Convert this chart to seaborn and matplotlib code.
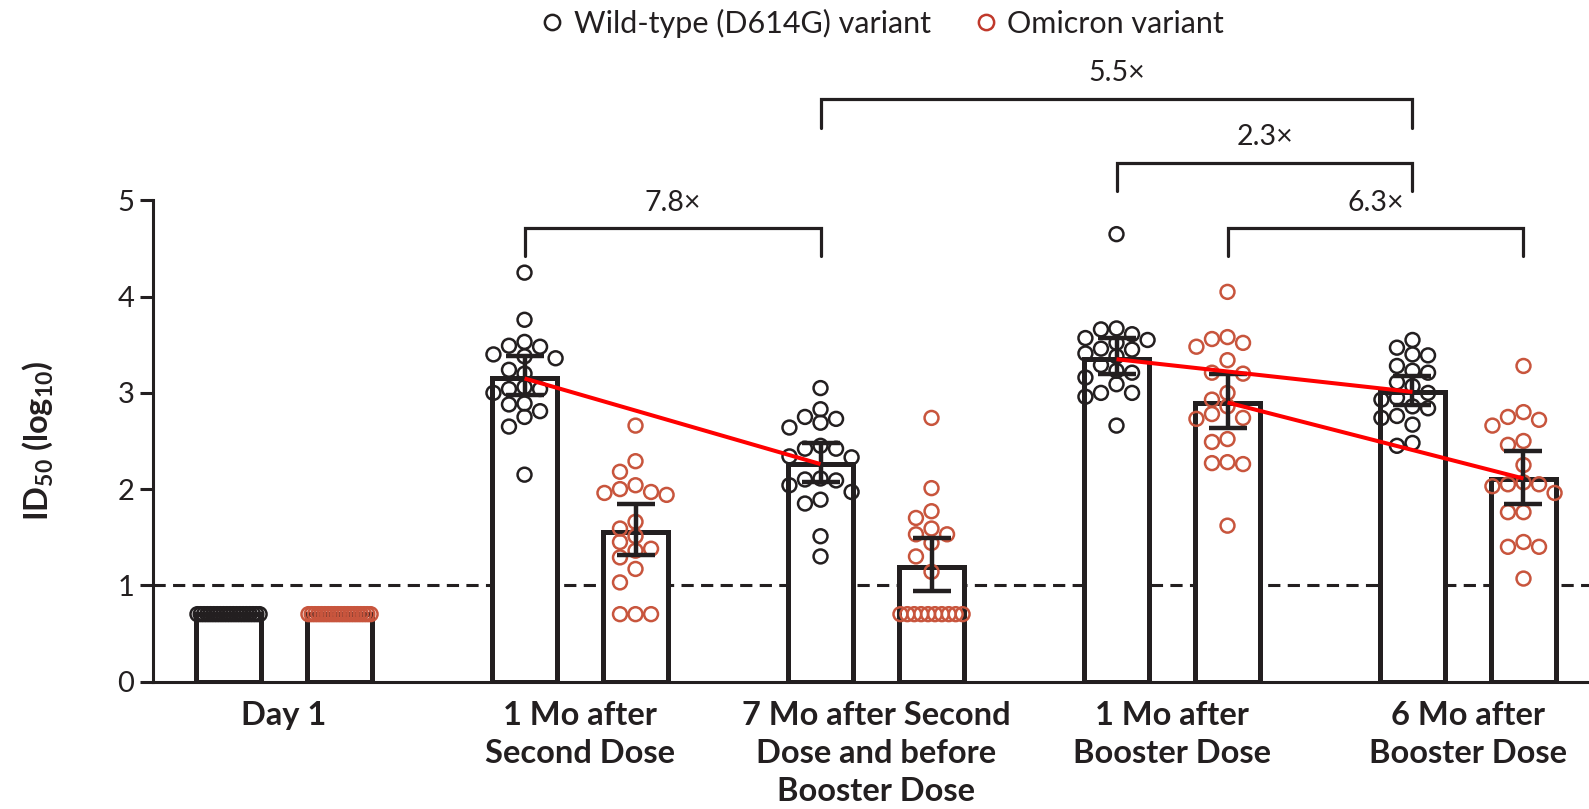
import numpy as np
import pandas as pd
import matplotlib
matplotlib.use("Agg")
import matplotlib.pyplot as plt
from matplotlib.lines import Line2D
import seaborn as sns

# ---------------------------------------------------------------- data
groups = [
    "Day 1",
    "1 Mo after\nSecond Dose",
    "7 Mo after Second\nDose and before\nBooster Dose",
    "1 Mo after\nBooster Dose",
    "6 Mo after\nBooster Dose",
]
variants = ["Wild-type (D614G) variant", "Omicron variant"]

# individual log10 ID50 titers
wt_day1 = [0.70] * 20
om_day1 = [0.70] * 20
wt_m1_dose2 = [4.25, 3.76, 3.53, 3.49, 3.48, 3.40, 3.38, 3.36, 3.24, 3.20,
               3.06, 3.04, 3.04, 3.00, 2.89, 2.88, 2.81, 2.75, 2.65, 2.15]
om_m1_dose2 = [2.66, 2.29, 2.18, 2.04, 2.00, 1.97, 1.96, 1.94, 1.66, 1.59,
               1.51, 1.45, 1.38, 1.36, 1.29, 1.17, 1.03, 0.70, 0.70, 0.70]
wt_m7_dose2 = [3.05, 2.83, 2.75, 2.73, 2.69, 2.64, 2.45, 2.42, 2.42, 2.34,
               2.33, 2.11, 2.10, 2.09, 2.04, 1.97, 1.89, 1.85, 1.51, 1.30]
om_m7_dose2 = [2.74, 2.01, 1.77, 1.70, 1.59, 1.53, 1.53, 1.44, 1.30, 1.14,
               0.70, 0.70, 0.70, 0.70, 0.70, 0.70, 0.70, 0.70, 0.70, 0.70]
wt_m1_boost = [4.65, 3.67, 3.66, 3.61, 3.57, 3.55, 3.52, 3.46, 3.45, 3.41,
               3.38, 3.29, 3.23, 3.21, 3.16, 3.09, 3.00, 3.00, 2.96, 2.66]
om_m1_boost = [4.05, 3.58, 3.56, 3.52, 3.48, 3.34, 3.21, 3.20, 3.00, 2.93,
               2.86, 2.78, 2.74, 2.73, 2.52, 2.49, 2.28, 2.27, 2.26, 1.62]
wt_m6_boost = [3.55, 3.47, 3.40, 3.39, 3.28, 3.23, 3.21, 3.11, 3.07, 3.00,
               2.95, 2.93, 2.86, 2.84, 2.76, 2.74, 2.67, 2.48, 2.45]
om_m6_boost = [3.28, 2.80, 2.75, 2.72, 2.66, 2.50, 2.46, 2.25, 2.07, 2.05,
               2.05, 2.03, 1.96, 1.76, 1.76, 1.45, 1.40, 1.40, 1.07]

wt_points = [wt_day1, wt_m1_dose2, wt_m7_dose2, wt_m1_boost, wt_m6_boost]
om_points = [om_day1, om_m1_dose2, om_m7_dose2, om_m1_boost, om_m6_boost]

# geometric mean titers (log10) with 95% CI
wt_mean = [0.70, 3.15, 2.26, 3.35, 3.01]
wt_lo = [np.nan, 2.98, 2.07, 3.20, 2.87]
wt_hi = [np.nan, 3.38, 2.48, 3.57, 3.18]
om_mean = [0.70, 1.55, 1.19, 2.90, 2.11]
om_lo = [np.nan, 1.32, 0.94, 2.64, 1.85]
om_hi = [np.nan, 1.84, 1.49, 3.20, 2.40]

# limit of detection
lod = 1.0

# decline lines between time points: (group_from, group_to, variant index)
trend_pairs = [(1, 2, 0), (3, 4, 0), (3, 4, 1)]

# fold-change comparisons: (group_a, variant_a, group_b, variant_b, label)
fold_changes = [
    (1, 0, 2, 0, "7.8\u00d7"),
    (2, 0, 4, 0, "5.5\u00d7"),
    (3, 0, 4, 0, "2.3\u00d7"),
    (3, 1, 4, 1, "6.3\u00d7"),
]
# bracket tiers (top, leg end) in axis units, same order as fold_changes
bracket_levels = [(4.71, 4.42), (6.06, 5.75), (5.39, 5.10), (4.71, 4.42)]

# ---------------------------------------------------------------- style
sns.set_style("white")
plt.rcParams["font.family"] = ["Lato", "DejaVu Sans"]
plt.rcParams["mathtext.fontset"] = "custom"
plt.rcParams["mathtext.rm"] = "Lato:bold"
plt.rcParams["mathtext.it"] = "Lato:bold"
plt.rcParams["mathtext.bf"] = "Lato:bold"
plt.rcParams["mathtext.default"] = "rm"

INK = "#231F20"
OMI = "#C8553D"
TREND = "#FF0000"
colors = [INK, OMI]

DODGE_WIDTH = 0.75
OFFSET = DODGE_WIDTH / 4          # bar centre offset from group centre
COL_STEP = 0.0525                 # horizontal spacing of dot columns
MIN_DY = 0.14                     # vertical clearance between dots in a column


def swarm_offsets(vals, step, min_dy, max_half=2):
    """Grid-based beeswarm: dots go into columns around the centre; long rows
    of identical values are squeezed evenly into the bar width."""
    vals = np.asarray(vals, float)
    offs = np.zeros(len(vals))
    uniq, counts = np.unique(vals, return_counts=True)
    crowded = {u for u, c in zip(uniq, counts) if c > 2 * max_half + 1}
    for u in crowded:
        idx = np.where(vals == u)[0]
        offs[idx] = np.linspace(-max_half * step, max_half * step, len(idx))
    cand = [0] + [s * k for k in range(1, max_half + 2) for s in (-1, 1)]
    placed = {}
    for i in np.argsort(-vals, kind="stable"):
        if vals[i] in crowded:
            continue
        best, best_gap = cand[0], -1
        for c in cand:
            ys = placed.get(c, [])
            gap = min([abs(vals[i] - y) for y in ys], default=np.inf)
            if gap >= min_dy:
                best = c
                break
            if gap > best_gap:
                best, best_gap = c, gap
        placed.setdefault(best, []).append(vals[i])
        offs[i] = best * step
    return offs


# ---------------------------------------------------------------- figure
fig = plt.figure(figsize=(15.89, 8.09), dpi=100)
ax = fig.add_axes([0.0963, 0.1576, 0.9037, 0.8424])

bars = pd.DataFrame({
    "group": np.repeat(groups, 2),
    "variant": variants * len(groups),
    "mean": np.ravel(np.column_stack([wt_mean, om_mean])),
})
sns.barplot(data=bars, x="group", y="mean", hue="variant", order=groups,
            hue_order=variants, palette=["white", "white"], saturation=1,
            width=DODGE_WIDTH, gap=0.413, edgecolor=INK, linewidth=3.6,
            errorbar=None, legend=False, ax=ax, zorder=2)

# limit of detection
ax.axhline(lod, color=INK, lw=2.2, ls=(0, (4, 2.4)), zorder=1.5)

# individual dots
for v, (pts, col) in enumerate(zip([wt_points, om_points], colors)):
    sign = -1 if v == 0 else 1
    for g, vals in enumerate(pts):
        xs = g + sign * OFFSET + swarm_offsets(vals, COL_STEP, MIN_DY)
        sns.scatterplot(x=xs, y=vals, ax=ax, s=100, marker="o",
                        facecolor="none", edgecolor=col, linewidth=1.8,
                        legend=False, zorder=3)

# error bars (95% CI)
for v, (m, lo, hi) in enumerate([(wt_mean, wt_lo, wt_hi), (om_mean, om_lo, om_hi)]):
    sign = -1 if v == 0 else 1
    m, lo, hi = map(np.asarray, (m, lo, hi))
    ok = ~np.isnan(lo)
    xs = np.arange(len(groups))[ok] + sign * OFFSET
    ax.errorbar(xs, m[ok], yerr=[m[ok] - lo[ok], hi[ok] - m[ok]], fmt="none",
                ecolor=INK, elinewidth=3.2, capsize=13.5, capthick=3.2,
                zorder=5)

# decline lines between geometric means
means = [wt_mean, om_mean]
for ga, gb, v in trend_pairs:
    sign = -1 if v == 0 else 1
    ax.plot([ga + sign * OFFSET, gb + sign * OFFSET],
            [means[v][ga], means[v][gb]], color=TREND, lw=2.9,
            solid_capstyle="butt", zorder=6)

# fold-change brackets
for (ga, va, gb, vb, label), (top, leg) in zip(fold_changes, bracket_levels):
    xa = ga + (-1 if va == 0 else 1) * OFFSET
    xb = gb + (-1 if vb == 0 else 1) * OFFSET
    ax.plot([xa, xa, xb, xb], [leg, top, top, leg], color=INK, lw=2.3,
            solid_joinstyle="miter", clip_on=False, zorder=6)
    ax.text((xa + xb) / 2, top + 0.13, label, ha="center", va="bottom",
            fontsize=20.5, color=INK)

# axes cosmetics
ax.set_xlim(-0.4426, 4.4088)
ax.set_ylim(0, 7.084)
for side in ("top", "right"):
    ax.spines[side].set_visible(False)
ax.spines["left"].set_bounds(0, 5)
ax.spines["left"].set_linewidth(2.2)
ax.spines["bottom"].set_linewidth(2.2)
ax.spines["left"].set_color(INK)
ax.spines["bottom"].set_color(INK)

ax.set_yticks(range(6))
ax.set_yticklabels([str(i) for i in range(6)], fontsize=21, color=INK)
ax.tick_params(axis="y", length=9.5, width=2.2, color=INK, pad=4, left=True)
ax.set_xticks(range(len(groups)))
ax.set_xticklabels(groups, fontsize=23.5, fontweight="bold", color=INK,
                   linespacing=1.38)
ax.tick_params(axis="x", length=0, pad=14)
ax.set_xlabel("")
ax.set_ylabel(r"ID$_{50}$ (log$_{10}$)", fontsize=23.5, fontweight="bold",
              color=INK)
ax.yaxis.set_label_coords(-0.0686, 2.5 / 7.084)

# legend
handles = [Line2D([], [], ls="none", marker="o", markersize=11,
                  markerfacecolor="none", markeredgecolor=c,
                  markeredgewidth=1.8) for c in (INK, "#C0392B")]
fig.legend(handles, variants, loc="center", bbox_to_anchor=(0.554, 1 - 23 / 809),
           ncol=2, frameon=False, fontsize=22, handletextpad=0.2,
           columnspacing=1.3, handlelength=1.0, labelcolor=INK)

fig.savefig("out.png", dpi=100)
